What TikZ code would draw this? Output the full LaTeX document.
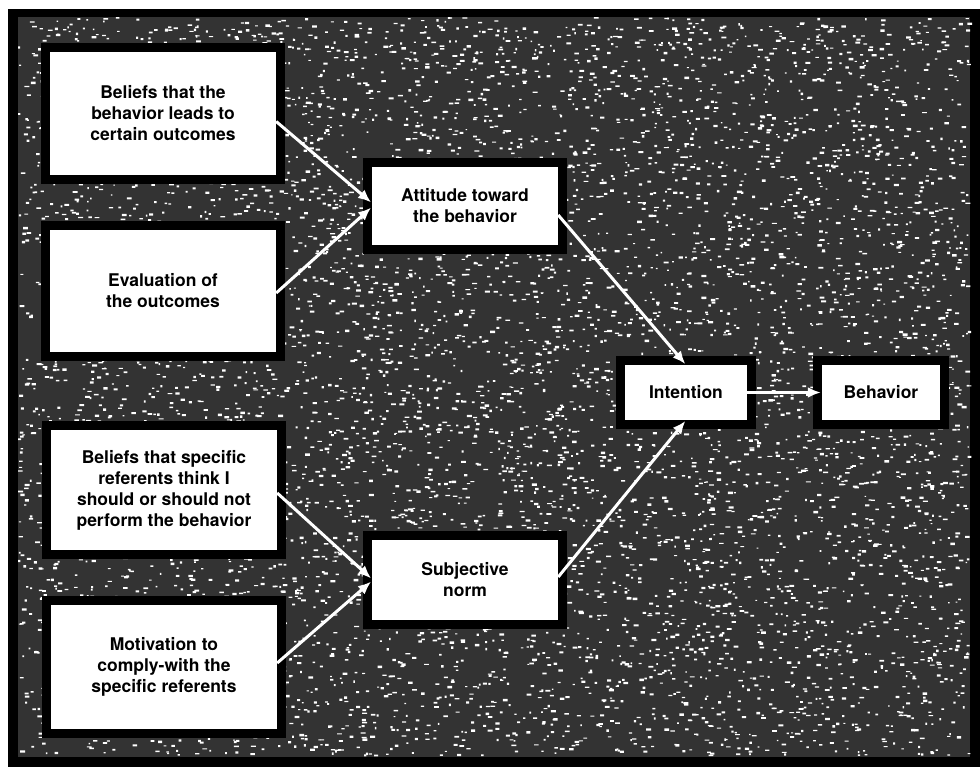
\documentclass[tikz,border=0pt]{standalone}
\usepackage{fontspec}
\setmainfont{TeX Gyre Heros}
\usetikzlibrary{arrows.meta}
\begin{document}
\begin{tikzpicture}[x=1pt,y=-1pt,
  box/.style={fill=white, draw=none, align=center, inner sep=0pt,
    font=\fontsize{17.5}{21}\selectfont\bfseries,
    preaction={draw=black, line width=18pt}},
  conn/.style={draw=white, line width=3pt, -{Latex[length=13pt,width=11pt]}, shorten >=1pt}]
\useasboundingbox (0,0) rectangle (980,767);
\fill[white] (0,0) rectangle (980,767);
\fill[black] (8,9) rectangle (980,767);
\fill[black!80] (18,17) rectangle (970,757);
\pgfmathsetseed{7}
\foreach \k in {1,2,3} {
  \fill[white] \foreach \i in {1,...,2300} {(18+rnd*950,17+rnd*738) rectangle ++(1.5+rnd*3.5,1+rnd*1.5)};
}
% boxes
\node[box, minimum width=226pt, minimum height=123pt] (b1) at (163,113.5) {Beliefs that the\\behavior leads to\\certain outcomes};
\node[box, minimum width=226pt, minimum height=122pt] (b2) at (163,291) {Evaluation of\\the outcomes};
\node[box, minimum width=226pt, minimum height=120pt] (b3) at (164,490) {Beliefs that specific\\referents think I\\should or should not\\perform the behavior};
\node[box, minimum width=226pt, minimum height=124pt] (b4) at (164,667) {Motivation to\\comply-with the\\specific referents};
\node[box, minimum width=186pt, minimum height=78pt] (att) at (465,206) {Attitude toward\\the behavior};
\node[box, minimum width=186pt, minimum height=80pt] (sn) at (465,580) {Subjective\\norm};
\node[box, minimum width=122pt, minimum height=55pt] (int) at (686,392.5) {Intention};
\node[box, minimum width=118pt, minimum height=55pt] (beh) at (881,392.5) {Behavior};
% connectors
\draw[conn] ([yshift=-8pt]b1.east) -- ([yshift=3pt]att.west);
\draw[conn] ([yshift=-2pt]b2.east) -- ([yshift=-1pt]att.west);
\draw[conn] ([yshift=-3pt]b3.east) -- ([yshift=1pt]sn.west);
\draw[conn] ([yshift=4pt]b4.east) -- ([yshift=-1pt]sn.west);
\draw[conn] ([yshift=-9pt]att.east) -- (int.north);
\draw[conn] ([yshift=3pt]sn.east) -- (int.south);
\draw[conn] (int.east) -- (beh.west);
\end{tikzpicture}
\end{document}
